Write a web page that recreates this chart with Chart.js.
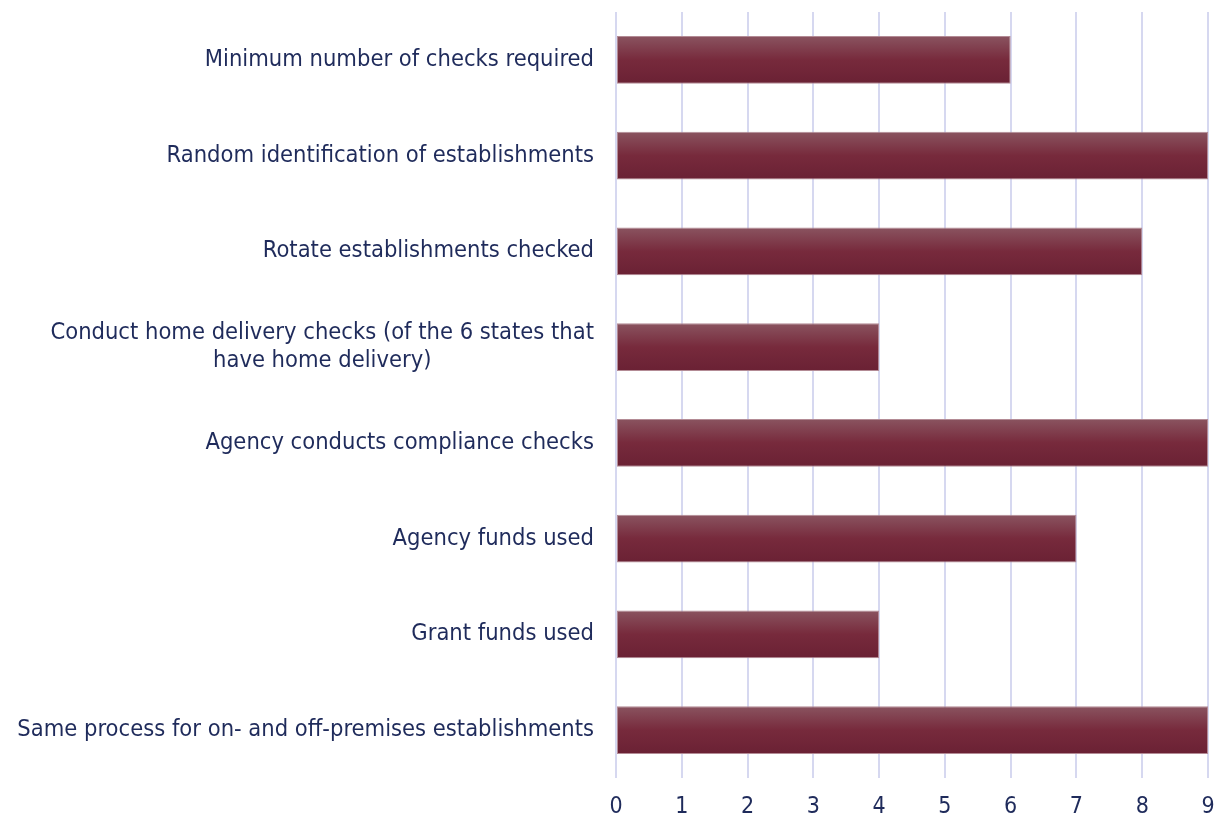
<!DOCTYPE html>
<html>
<head>
<meta charset="utf-8">
<script src="https://cdn.jsdelivr.net/npm/chart.js@4"></script>
<style>
  html, body { margin: 0; padding: 0; background: #fff; }
  #wrap { width: 1220px; height: 818px; }
</style>
</head>
<body>
<div id="wrap"><canvas id="graf"></canvas></div>
<script>
// kategorije (odozgo prema dolje) i broj država
const kategorije = [
  ['Minimum number of checks required'],
  ['Random identification of establishments'],
  ['Rotate establishments checked'],
  ['Conduct home delivery checks (of the 6 states that', 'have home delivery)'],
  ['Agency conducts compliance checks'],
  ['Agency funds used'],
  ['Grant funds used'],
  ['Same process for on- and off-premises establishments']
];
const vrijednosti = [6, 9, 8, 4, 9, 7, 4, 9];
const xTickovi = [0, 1, 2, 3, 4, 5, 6, 7, 8, 9];

const FONT = '"DejaVu Sans Condensed", "DejaVu Sans", sans-serif';
const TEKST = '#1f2b5b';

// gradijent za svaki stupac posebno
function bojaStupca(c) {
  const chart = c.chart;
  if (!chart.chartArea || c.type !== 'data') return '#722536';
  const y = chart.scales.y;
  const cy = y.getPixelForValue(c.dataIndex);
  const h = (y.getPixelForValue(1) - y.getPixelForValue(0)) * 0.5;
  const g = chart.ctx.createLinearGradient(0, cy - h / 2, 0, cy + h / 2);
  g.addColorStop(0, '#8a5460');
  g.addColorStop(0.5, '#772a3c');
  g.addColorStop(1, '#6a2134');
  return g;
}

// oznake kategorija crtamo sami da bi drugi red bio centriran
const oznake = {
  id: 'oznake',
  afterDraw(chart) {
    const ctx = chart.ctx;
    const y = chart.scales.y;
    const desno = chart.chartArea.left - 22;
    ctx.save();
    ctx.font = '23.5px ' + FONT;
    ctx.fillStyle = TEKST;
    ctx.textBaseline = 'middle';
    ctx.textAlign = 'center';
    kategorije.forEach((linije, i) => {
      const cy = y.getPixelForValue(i);
      const max = Math.max(...linije.map(l => ctx.measureText(l).width));
      linije.forEach((l, j) => {
        const ly = cy + (j - (linije.length - 1) / 2) * 28;
        ctx.fillText(l, desno - max / 2, ly);
      });
    });
    ctx.restore();
  }
};

new Chart(document.getElementById('graf'), {
  type: 'bar',
  data: {
    labels: kategorije.map(k => k.join(' ')),
    datasets: [{
      data: vrijednosti,
      backgroundColor: bojaStupca,
      borderColor: '#b38b95',
      borderWidth: 1,
      borderSkipped: false,
      barPercentage: 0.5,
      categoryPercentage: 1
    }]
  },
  options: {
    indexAxis: 'y',
    responsive: true,
    maintainAspectRatio: false,
    animation: false,
    layout: { padding: { top: 12, right: 12, bottom: 0, left: 0 } },
    plugins: { legend: { display: false }, tooltip: { enabled: false } },
    scales: {
      x: {
        min: 0,
        max: 9,
        afterBuildTicks: s => { s.ticks = xTickovi.map(v => ({ value: v })); },
        afterFit: s => { s.height = 40; s.paddingLeft = 0; s.paddingRight = 0; },
        grid: { color: '#d6d8f0', lineWidth: 2, tickLength: 0 },
        border: { display: false },
        ticks: { color: TEKST, font: { family: FONT, size: 23 }, padding: 15 }
      },
      y: {
        afterFit: s => { s.width = 616; },
        grid: { display: false },
        border: { display: false },
        ticks: { display: false }
      }
    }
  },
  plugins: [oznake]
});
</script>
</body>
</html>
